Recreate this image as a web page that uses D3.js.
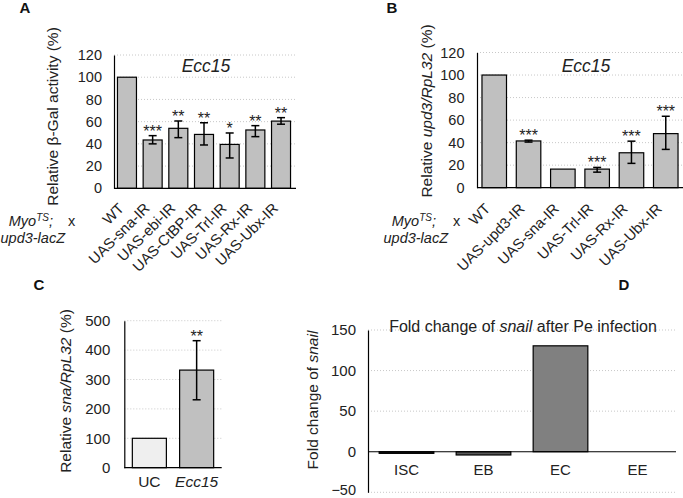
<!DOCTYPE html>
<html><head><meta charset="utf-8">
<script src="https://cdn.jsdelivr.net/npm/d3@7"></script>
<style>body{margin:0;background:#fff}svg{display:block;font-family:"Liberation Sans",Arial,sans-serif}</style>
</head><body><svg id="c" width="683" height="498"></svg>
<script>
// Panel A
const aCats = ["WT","UAS-sna-IR","UAS-ebi-IR","UAS-CtBP-IR","UAS-Trl-IR","UAS-Rx-IR","UAS-Ubx-IR"];
const aVals = [100, 43.5, 54, 48.5, 39.5, 52.5, 60.5];
const aErrLo = [null, 40, 45.6, 39, 27.3, 46.5, 57.7];
const aErrHi = [null, 47.4, 60.6, 59, 49.8, 56.4, 63.6];
const aSig = ["", "***", "**", "**", "*", "**", "**"];
const aTicks = [0, 20, 40, 60, 80, 100, 120];
// Panel B
const bCats = ["WT","UAS-upd3-IR","UAS-sna-IR","UAS-Trl-IR","UAS-Rx-IR","UAS-Ubx-IR"];
const bVals = [100, 41.5, 16.5, 16.5, 31, 48];
const bErrLo = [null, 40.5, null, 13.8, 21.6, 34];
const bErrHi = [null, 42.2, null, 18, 41.3, 63.4];
const bSig = ["", "***", "", "***", "***", "***"];
const bTicks = [0, 20, 40, 60, 80, 100, 120];
// Panel C
const cCats = ["UC", "Ecc15"];
const cVals = [100, 332];
const cErrLo = [null, 231];
const cErrHi = [null, 432];
const cSig = ["", "**"];
const cTicks = [0, 100, 200, 300, 400, 500];
// Panel D
const dCats = ["ISC", "EB", "EC", "EE"];
const dVals = [-2, -4, 130.5, 0];
const dTicks = [-50, 0, 50, 100, 150];

const FF = "'Liberation Sans', Arial, sans-serif";
const svg = d3.select("#c");
svg.append("rect").attr("width",683).attr("height",498).attr("fill","#fff");

function panel(o){
  const g = svg.append("g");
  const y = d3.scaleLinear().domain(o.ydom).range(o.yr);
  const x = d3.scaleBand().domain(o.cats).range(o.xr).paddingInner(o.pi).paddingOuter(o.po);
  const gridEnd = o.gridEnd || o.xr[1];
  g.selectAll("line.grid").data(o.ticks.filter(t=>t!==0)).join("line")
    .attr("x1", o.xr[0]).attr("x2", gridEnd).attr("y1", d=>y(d)).attr("y2", d=>y(d))
    .attr("stroke","#c8c8c8").attr("stroke-width",1).attr("stroke-dasharray","1,2");
  g.selectAll("rect.bar").data(o.cats).join("rect")
    .attr("x", d=>x(d)).attr("width", x.bandwidth())
    .attr("y", (d,i)=>y(Math.max(0,o.vals[i]))).attr("height",(d,i)=>Math.abs(y(o.vals[i])-y(0)))
    .attr("fill",(d,i)=>o.fill[i]).attr("stroke","#000").attr("stroke-width",1.2);
  g.append("line").attr("x1",o.xr[0]).attr("x2",gridEnd).attr("y1",y(0)).attr("y2",y(0))
    .attr("stroke","#000").attr("stroke-width",1.2);
  const ax = g.append("g").attr("transform",`translate(${o.xr[0]},0)`)
    .call(d3.axisLeft(y).tickValues(o.ticks).tickSize(0).tickPadding(o.tp).tickFormat(d3.format("d")));
  ax.select(".domain").attr("stroke","#000").attr("stroke-width",1.2);
  ax.selectAll("text").attr("font-size",o.tfs).attr("font-family",FF).attr("fill","#222");
  if (o.lo){
    o.cats.forEach((c,i)=>{
      if (o.lo[i]==null) return;
      const cx = x(c)+x.bandwidth()/2;
      g.append("line").attr("x1",cx).attr("x2",cx).attr("y1",y(o.lo[i])).attr("y2",y(o.hi[i])).attr("stroke","#000").attr("stroke-width",1.5);
      [o.lo[i],o.hi[i]].forEach(v=>g.append("line").attr("x1",cx-4).attr("x2",cx+4).attr("y1",y(v)).attr("y2",y(v)).attr("stroke","#000").attr("stroke-width",1.5));
      if (o.sig[i]) g.append("text").attr("x",cx).attr("y",y(o.hi[i])+1).attr("text-anchor","middle")
        .attr("font-size",16).attr("fill","#222").text(o.sig[i]);
    });
  }
  return {x,y,g,ax};
}

const A = panel({cats:aCats, vals:aVals, lo:aErrLo, hi:aErrHi, sig:aSig, ticks:aTicks,
  ydom:[0,120], yr:[188.3,55], xr:[114,294], pi:0.26, po:0.135, gridEnd:296,
  fill:aCats.map(()=>"#c0c0c0"), tp:12, tfs:14.5});
const B = panel({cats:bCats, vals:bVals, lo:bErrLo, hi:bErrHi, sig:bSig, ticks:bTicks,
  ydom:[0,120], yr:[187.7,52.5], xr:[477,683], pi:0.285, po:0.145,
  fill:bCats.map(()=>"#c0c0c0"), tp:12.5, tfs:14.5});
const C = panel({cats:cCats, vals:cVals, lo:cErrLo, hi:cErrHi, sig:cSig, ticks:cTicks,
  ydom:[0,500], yr:[467.7,320.7], xr:[124.3,221.7], pi:0.28, po:0.17,
  fill:["#efefef","#c0c0c0"], tp:14, tfs:15});
const D = panel({cats:dCats, vals:dVals, ticks:dTicks,
  ydom:[-50,150], yr:[492.3,330], xr:[368,676], pi:0.29, po:0.145,
  fill:["#1a1a1a","#595959","#808080","#808080"], tp:12, tfs:15});
D.ax.selectAll(".tick").filter(d=>d===-50).select("text").attr("dy","0.12em").attr("font-size",14.5);

const FS = 15.5;
function rotLabels(P, cats, dx, dy){
  cats.forEach(c=>{
    const cx = P.x(c)+P.x.bandwidth()/2 + dx;
    const cy = P.y(0) + dy;
    P.g.append("text").attr("transform",`translate(${cx},${cy}) rotate(-45)`)
      .attr("text-anchor","end").attr("font-size",14.8).attr("fill","#222").text(c);
  });
}
rotLabels(A, aCats, -2, 21);
rotLabels(B, bCats, -3, 22);

cCats.forEach(c=>{
  C.g.append("text").attr("x",C.x(c)+C.x.bandwidth()/2).attr("y",487).attr("text-anchor","middle")
   .attr("font-size",15.5).attr("fill","#222").attr("font-style", c==="Ecc15"?"italic":"normal").text(c);
});
dCats.forEach(c=>{
  D.g.append("text").attr("x",D.x(c)+D.x.bandwidth()/2).attr("y",475).attr("text-anchor","middle")
   .attr("font-size",15).attr("fill","#222").text(c);
});

svg.append("text").attr("x",206).attr("y",72).attr("text-anchor","middle").attr("font-size",17.5).attr("font-style","italic").attr("fill","#222").text("Ecc15");
svg.append("text").attr("x",586).attr("y",72).attr("text-anchor","middle").attr("font-size",17.5).attr("font-style","italic").attr("fill","#222").text("Ecc15");
const tD = svg.append("text").attr("x",523).attr("y",331.5).attr("text-anchor","middle").attr("font-size",16).attr("fill","#222");
tD.append("tspan").text("Fold change of ");
tD.append("tspan").attr("font-style","italic").text("snail");
tD.append("tspan").text(" after Pe infection");

function ylab(x, y, parts){
  const t = svg.append("text").attr("transform",`translate(${x},${y}) rotate(-90)`).attr("text-anchor","middle")
    .attr("font-size",FS).attr("fill","#222");
  parts.forEach(p=>t.append("tspan").attr("font-style",p[1]?"italic":"normal").text(p[0]));
}
ylab(58, 116.5, [["Relative β-Gal activity (%)",false]]);
ylab(432, 111, [["Relative ",false],["upd3/RpL32",true],[" (%)",false]]);
ylab(71, 391, [["Relative ",false],["sna/RpL32",true],[" (%)",false]]);
ylab(318, 400, [["Fold change of ",false],["snail",true]]);

function geno(xr, x1, xx, y1){
  const t = svg.append("text").attr("x",xr).attr("y",y1).attr("text-anchor","end").attr("font-size",14.5).attr("font-style","italic").attr("fill","#222");
  t.append("tspan").text("Myo");
  t.append("tspan").attr("font-size",10).attr("dy",-5).text("TS");
  t.append("tspan").attr("dy",5).text(";");
  svg.append("text").attr("x",xx).attr("y",y1).attr("text-anchor","middle").attr("font-size",14.5).attr("fill","#222").text("x");
  svg.append("text").attr("x",x1).attr("y",y1+17).attr("text-anchor","end").attr("font-size",14.5).attr("font-style","italic").attr("fill","#222").text("upd3-lacZ");
}
geno(53, 65, 71.5, 226);
geno(436, 448, 456.5, 226);

[["A",25,13],["B",392,13],["C",39,290],["D",624,290]].forEach(l=>
  svg.append("text").attr("x",l[1]).attr("y",l[2]).attr("text-anchor","middle").attr("font-size",15).attr("font-weight","bold").attr("fill","#111").text(l[0]));
</script></body></html>
